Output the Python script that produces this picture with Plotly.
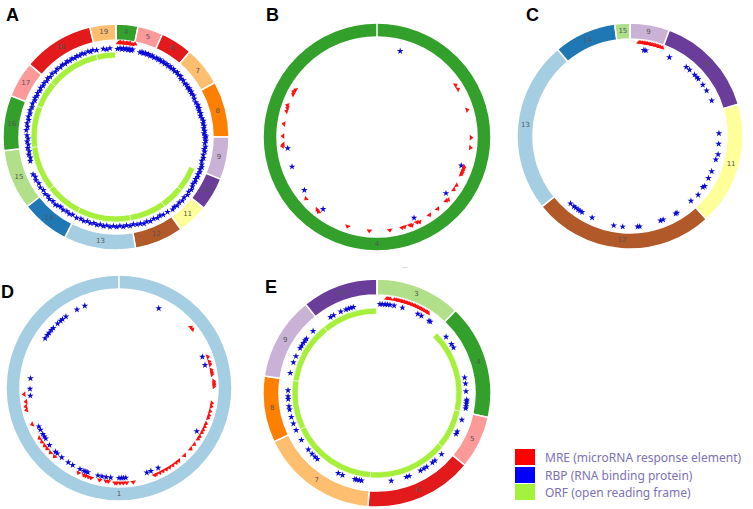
import plotly.graph_objects as go

W, H = 753, 509
PAIRED = ['#a6cee3', '#1f78b4', '#b2df8a', '#33a02c', '#fb9a99', '#e31a1c',
          '#fdbf6f', '#ff7f00', '#cab2d6', '#6a3d9a', '#ffff99', '#b15928']

# ---------------- Panel A ----------------
A_exons = [4, 5, 6, 7, 8, 9, 10, 11, 12, 13, 14, 15, 16, 17, 18, 19]
A_bounds = [0, 11.3, 24.3, 40.9, 61.2, 90, 112, 129, 145, 170, 207, 232, 263, 291.5, 310, 346.6, 360]
A_orf = [112, 129, 145, 170, 207, 232, 263, 291.5, 310, 346.6, 359.5]
A_mre = [(1.5, 94), (2.5, 95), (3.5, 94), (4.5, 95), (5.5, 94), (6.5, 95), (7.5, 94), (8.5, 95), (10, 94), (11.5, 95)]
A_rbp = [
    (1, 88), (2.6, 89), (3.8, 88), (4.8, 89), (6, 88), (7, 89), (8, 88), (9, 89), (10, 88), (10.8, 89),
    (15.8, 88), (17, 89), (18.1, 88), (19.3, 89), (20.4, 88), (21.5, 89), (22.7, 88), (24, 89), (25.5, 88),
    (27.3, 89), (28.5, 88), (29.7, 89), (31, 88), (32.4, 89), (33.6, 88), (34.9, 89), (36.2, 88), (37.5, 89),
    (38.9, 88), (40.3, 89), (41.8, 88), (43.5, 89), (45.2, 88), (46.7, 89), (48.2, 87), (50, 88), (52.1, 87),
    (53.6, 88), (55.2, 87), (56.5, 88), (57.6, 87), (59, 88), (60.4, 87), (62, 88), (64, 87), (66.5, 87),
    (68.5, 88), (69.7, 87), (70.8, 88), (72.5, 87), (74.3, 88), (76, 87), (77.7, 88), (79.5, 89), (81.1, 88),
    (82.8, 89), (84.4, 88), (86, 89), (87.6, 88), (89, 89), (89.8, 90), (90.9, 89), (92.5, 90), (94, 89),
    (96.2, 90), (97.8, 89), (99.4, 90), (101.5, 89), (103.6, 90), (105.6, 89), (107.8, 90), (109.5, 91),
    (111.1, 90), (112.8, 91), (114.5, 90), (116.2, 91), (117.9, 90), (119.6, 91), (121.3, 90), (123, 91),
    (125, 92), (127, 91), (129.1, 92), (131.5, 91), (133.8, 92), (136, 91), (138.3, 92), (140.2, 91), (142, 92),
    (145.5, 91), (148.7, 91), (150.8, 90), (152.9, 91), (155.3, 90), (157.7, 91), (160, 90), (162.1, 91),
    (164.3, 90), (166.5, 90), (168.8, 89), (171, 90), (173.2, 89), (175.3, 90), (177.5, 89), (179.6, 90),
    (181.7, 89), (183.8, 90), (185.9, 89), (188, 90), (190.2, 89), (192.3, 90), (194.4, 89), (196.6, 90),
    (198.8, 89), (201, 90), (203.2, 89), (206, 90), (209.1, 89), (211.3, 90), (213.5, 89), (216, 90),
    (218.3, 89), (220.2, 90), (222, 91), (224.5, 90), (227, 91), (229.1, 90), (231.2, 91), (233.8, 90),
    (236.3, 91), (239, 90), (241.6, 91), (243.7, 90), (245.7, 91),
    (254.3, 89), (256.4, 88), (258.5, 89), (260.6, 88), (262.8, 89), (265, 88), (267, 89), (269, 88), (271, 89),
    (274.4, 90), (276.5, 89), (278.7, 90), (281, 89), (283.1, 90), (285.2, 89), (287.3, 90), (289.5, 89),
    (291.8, 90), (294.1, 89), (295.8, 90), (297.4, 89), (299.3, 90), (301.2, 89), (303.1, 90), (305, 89),
    (306.9, 90), (308.8, 89), (310.6, 90), (312.4, 89), (314.7, 90), (317, 89), (319.2, 90), (321.5, 89),
    (323.4, 90), (325.3, 89), (327.1, 90), (328.9, 89), (330.7, 90), (332.5, 89), (334.2, 90), (336, 89),
    (337.8, 90), (339.5, 89), (341.8, 90), (343.5, 89), (345.1, 90), (347.4, 89), (351.8, 89), (353.9, 88),
    (356.1, 89)]

# ---------------- Panel B ----------------
B_exons = [4]
B_bounds = [0, 360]
B_mre = [(297, 94), (298.5, 95), (300, 94), (288, 94), (289.5, 95), (285.9, 94), (278, 94), (270.6, 94),
         (265.5, 94), (264.5, 95), (229, 94), (219.5, 94), (218, 95), (198.2, 94), (184.7, 94), (172.2, 94),
         (164.5, 94), (163, 94), (159.5, 94), (158.5, 95), (155, 94), (153.5, 95), (146.1, 94), (139.9, 94),
         (132.7, 94), (131.5, 95), (124.4, 93), (121.3, 93), (109, 92), (110, 92), (111, 92), (112, 92),
         (113, 92), (114, 92), (96.5, 94), (90.4, 94), (73.3, 94), (59.4, 94), (56.6, 94)]
B_rbp = [(15.1, 89), (262.8, 90), (250.7, 90), (233.8, 90), (216.8, 90), (155.4, 89), (129.2, 89), (108.8, 89)]

# ---------------- Panel C ----------------
C_exons = [9, 10, 11, 12, 13, 14, 15]
C_bounds = [0, 20.4, 73.7, 137.5, 231.3, 320.1, 352.2, 360]
C_mre = [(5.5, 94), (6.5, 94), (7.5, 94), (8.5, 94), (9.5, 94), (10.5, 94), (11.5, 94), (12.5, 94),
         (13.5, 94), (14.5, 94), (15.5, 94), (16.5, 94), (17.5, 94), (18.5, 94), (20, 94)]
C_rbp = [(9.2, 87), (10.5, 87), (26.6, 88), (39.2, 89), (42, 89), (46.5, 89), (48.7, 89), (50.2, 89),
         (54.9, 89), (59.4, 89), (66.6, 89), (88.3, 89), (95.1, 89), (101.8, 90), (105.4, 89), (113.4, 89),
         (118.2, 89), (123.9, 90), (125.1, 89), (130.8, 90), (136.8, 89), (148.5, 90), (149.5, 90),
         (158.4, 90), (160.2, 90), (173.9, 91), (175.2, 91), (184.6, 91), (190.3, 91), (204.9, 90),
         (212.2, 90), (213.8, 90), (215.2, 90), (217.1, 90), (218.6, 90), (221.4, 90)]

# ---------------- Panel D ----------------
D_exons = [1]
D_bounds = [0, 360]
D_mre = [(49.9, 94), (51.3, 94), (70.7, 94), (73.7, 94), (75.5, 94), (79, 94), (80.5, 94), (81.6, 94),
         (86, 95), (87, 95), (88, 95), (89, 95), (99.3, 94), (101.3, 94), (104.4, 94), (106.9, 94),
         (108.6, 94), (112.3, 94), (114.3, 94), (116.5, 94), (118.3, 94), (121, 94), (122.7, 94),
         (126.8, 94), (130.3, 94), (135.9, 94), (140.7, 94), (142.6, 94), (145.1, 94), (147.6, 94),
         (149.8, 94), (152.1, 94), (154.3, 94), (156.6, 94), (157.7, 94), (171.4, 95), (175.4, 95),
         (177.4, 95), (179.4, 95), (181.4, 95), (182.4, 95), (186.5, 94), (187.9, 94), (191.9, 94),
         (197.3, 94), (198.9, 94), (200.6, 94), (201.9, 94), (205.5, 94), (223.2, 94), (226.7, 94),
         (229.9, 94), (232.2, 94), (235.1, 94), (237.7, 94), (247.3, 94), (256.6, 95), (258.7, 95),
         (261.6, 94), (266.2, 95)]
D_rbp = [(337.4, 89), (331.8, 89), (323.4, 89), (320.6, 89), (319, 89), (316.4, 89), (312.4, 89),
         (310.5, 89), (308.3, 89), (306.4, 89), (303.9, 89), (26.5, 89), (69.5, 89), (75.1, 89),
         (276.2, 89), (269.4, 89), (265, 89), (119.1, 89), (244.4, 89), (242, 89), (238.9, 89), (237, 89),
         (235.4, 89), (230.6, 90), (224.9, 90), (223.3, 90), (219.5, 90), (214.3, 90), (211, 90),
         (205.7, 90), (202.9, 90), (201.6, 90), (200.3, 90), (193.5, 90), (190.9, 90), (188.2, 90),
         (185.3, 90), (180, 90), (178.5, 90), (177.2, 90), (175.7, 90), (161.8, 89), (159, 89), (153.9, 89)]

# ---------------- Panel E ----------------
E_exons = [3, 4, 5, 6, 7, 8, 9, 10]
E_bounds = [0, 43.6, 102.4, 129.5, 184.6, 244.7, 278.6, 321.2, 360]
E_orf = [45, 102.4, 129.5, 184.6, 244.7, 278.6, 321.2, 359.5]
E_mre = [(6, 95), (7, 95), (8, 95), (10.5, 95), (11.5, 95), (12.5, 95), (13.5, 95), (14.5, 95), (15.5, 95),
         (16.5, 95), (17.5, 95), (18.5, 95), (19.5, 95), (20.5, 95), (21.5, 95), (22.5, 95), (23.5, 95),
         (24.5, 95), (25.5, 95), (26.5, 95), (27.5, 95), (28.5, 95), (29.5, 95), (30.5, 95), (31.5, 95),
         (32.5, 95)]
E_rbp = [(1.9, 89), (3.4, 89), (5.2, 89), (6.7, 89), (8.4, 89), (11.1, 89), (16.6, 89), (27.3, 89),
         (29.9, 89), (35.8, 89), (36.8, 89), (50.9, 89), (56.7, 89), (59.3, 89), (80, 89), (84, 89),
         (88.9, 89), (94.3, 90), (95.3, 90), (96.8, 90), (98.5, 90), (99.9, 90), (107.6, 89), (115.7, 89),
         (117.4, 89), (133.5, 89), (139.4, 89), (141.5, 89), (146.1, 89), (148.2, 89), (150.8, 89),
         (158.8, 89), (160.7, 89), (170.8, 89), (190, 89), (191.5, 89), (193.3, 89), (194.4, 89),
         (202.8, 89), (205.8, 89), (222.1, 89), (224.1, 89), (226.8, 89), (230.5, 89), (238.1, 89),
         (245.3, 89), (249.9, 89), (254.3, 89), (259.2, 89), (261.4, 89), (266.1, 89), (267.9, 89),
         (271.7, 89), (283, 89), (290.1, 89), (294.4, 89), (300.3, 89), (302.1, 89), (304.2, 89),
         (306.2, 89), (307.5, 89), (314.1, 89), (328.5, 89), (330.8, 89), (336, 89), (339.6, 89),
         (341.2, 89), (342.9, 89), (344.6, 89)]

LEGEND_LABELS = ['MRE (microRNA response element)', 'RBP (RNA binding protein)', 'ORF (open reading frame)']
LEGEND_COLORS = ['#ff0000', '#0000ff', '#a3f23c']
MRE_COLOR, RBP_COLOR, ORF_COLOR = '#ff1010', '#0a0ad8', '#a6f03c'

RMAX = 115
fig = go.Figure()

panels = [
    # key, letter, center px, ring radii, exons, bounds, orf, mre, rbp
    ('polar', 'A', (116, 137), (97, 113), A_exons, A_bounds, A_orf, A_mre, A_rbp),
    ('polar2', 'B', (377, 137), (100, 114), B_exons, B_bounds, None, B_mre, B_rbp),
    ('polar3', 'C', (630, 136), (97, 113), C_exons, C_bounds, None, C_mre, C_rbp),
    ('polar4', 'D', (119, 388), (99, 113), D_exons, D_bounds, None, D_mre, D_rbp),
    ('polar5', 'E', (377, 393), (98, 114), E_exons, E_bounds, E_orf, E_mre, E_rbp),
]

layout_polars = {}
for key, letter, (cx, cy), (rin, rout), exons, bounds, orf, mre, rbp in panels:
    centers = [(a + b) / 2 for a, b in zip(bounds[:-1], bounds[1:])]
    widths = [b - a for a, b in zip(bounds[:-1], bounds[1:])]
    colors = [PAIRED[(e - 1) % 12] for e in exons]
    fig.add_trace(go.Barpolar(
        r=[rout - rin] * len(exons), base=[rin] * len(exons), theta=centers, width=widths,
        marker=dict(color=colors, line=dict(color='white', width=1.5)),
        subplot=key, hoverinfo='skip'))
    # white seam at the segment start
    fig.add_trace(go.Scatterpolar(
        r=[rin - 1, rout + 1], theta=[bounds[0], bounds[0]], mode='lines',
        line=dict(color='white', width=1.5), subplot=key, hoverinfo='skip'))
    fig.add_trace(go.Scatterpolar(
        r=[(rin + rout) / 2] * len(exons), theta=[c if len(exons) > 1 else 180 for c in centers],
        text=[str(e) for e in exons], mode='text',
        textfont=dict(size=7, color='#555', family='DejaVu Sans'),
        subplot=key, hoverinfo='skip'))
    if orf:
        oc = [(a + b) / 2 for a, b in zip(orf[:-1], orf[1:])]
        ow = [b - a for a, b in zip(orf[:-1], orf[1:])]
        fig.add_trace(go.Barpolar(
            r=[6] * len(oc), base=[79] * len(oc), theta=oc, width=ow,
            marker=dict(color=ORF_COLOR, line=dict(color='white', width=0.6)),
            subplot=key, hoverinfo='skip'))
    fig.add_trace(go.Scatterpolar(
        theta=[t for t, r in rbp], r=[r for t, r in rbp], mode='markers',
        marker=dict(symbol='star', size=5, color=RBP_COLOR, line=dict(width=0)),
        subplot=key, hoverinfo='skip'))
    fig.add_trace(go.Scatterpolar(
        theta=[t for t, r in mre], r=[r for t, r in mre], mode='markers',
        marker=dict(symbol='triangle-up', size=5, color=MRE_COLOR, angle=[t for t, r in mre],
                    line=dict(width=0)),
        subplot=key, hoverinfo='skip'))
    layout_polars[key] = dict(
        domain=dict(x=[(cx - RMAX) / W, (cx + RMAX) / W], y=[1 - (cy + RMAX) / H, 1 - (cy - RMAX) / H]),
        bgcolor='rgba(0,0,0,0)', barmode='overlay', hole=0,
        radialaxis=dict(range=[0, RMAX], visible=False, showgrid=False),
        angularaxis=dict(rotation=90, direction='clockwise', visible=False, showgrid=False),
    )

letter_pos = {'A': (13, 15), 'B': (272, 15), 'C': (532, 15), 'D': (8, 292), 'E': (271, 287)}
annotations = []
for letter, (px, py) in letter_pos.items():
    annotations.append(dict(x=px / W, y=1 - py / H, xref='paper', yref='paper', text='<b>%s</b>' % letter,
                            showarrow=False, font=dict(size=18, color='black', family='Liberation Sans, Arial'),
                            xanchor='center', yanchor='middle'))
annotations.append(dict(x=405 / W, y=1 - 267 / H, xref='paper', yref='paper', text='—', showarrow=False,
                        font=dict(size=6, color='#aaa')))

shapes = []
leg_y = [457, 475, 492]
for lab, col, py in zip(LEGEND_LABELS, LEGEND_COLORS, leg_y):
    shapes.append(dict(type='rect', xref='paper', yref='paper', x0=515 / W, x1=535 / W,
                       y0=1 - (py + 8) / H, y1=1 - (py - 8) / H, fillcolor=col, line=dict(width=0)))
    annotations.append(dict(x=543 / W, y=1 - py / H, xref='paper', yref='paper', text=lab, showarrow=False,
                            xanchor='left', yanchor='middle',
                            font=dict(size=12, color='#7b72b5', family='Noto Sans')))

fig.update_layout(
    width=W, height=H, margin=dict(l=0, r=0, t=0, b=0),
    paper_bgcolor='white', plot_bgcolor='white', showlegend=False,
    annotations=annotations, shapes=shapes, **layout_polars)

fig.write_html('out.html', config={'displayModeBar': False},
               post_script="document.body.style.margin='0';")
